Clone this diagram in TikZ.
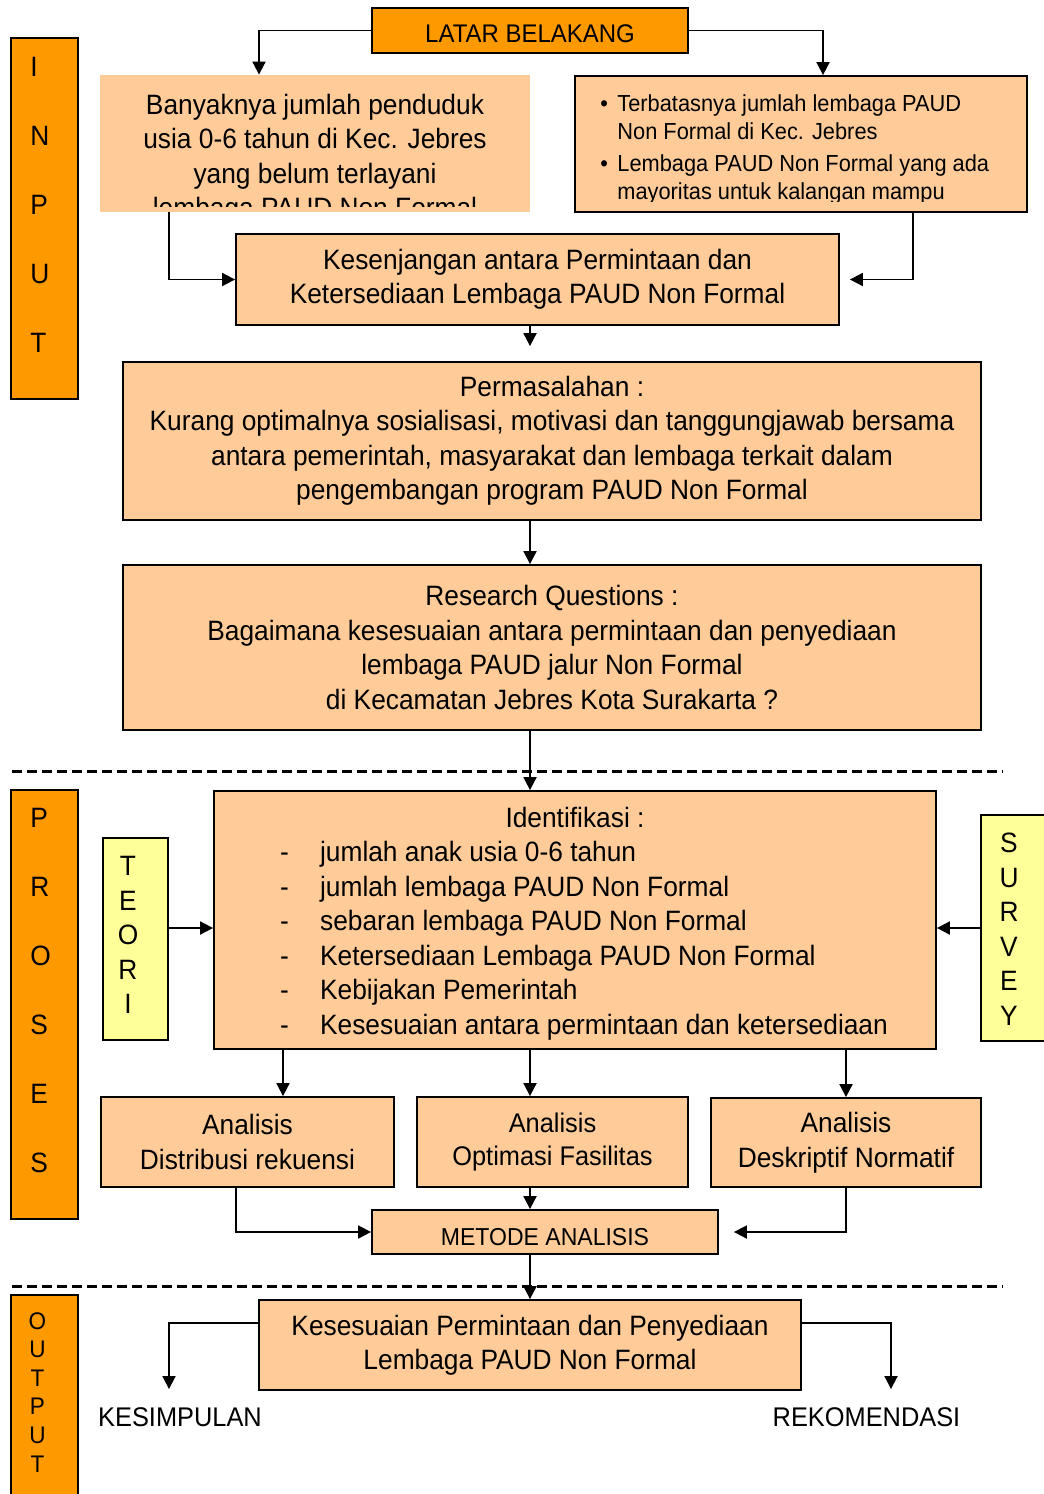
\documentclass[tikz,border=0pt]{standalone}
\usepackage{fontspec}
\setmainfont{Liberation Sans}[FakeStretch=0.94]
\usetikzlibrary{arrows.meta,positioning,calc}
\definecolor{paudOrange}{RGB}{255,153,0}
\definecolor{paudPeach}{RGB}{255,204,153}
\definecolor{paudYellow}{RGB}{255,255,153}
\newcommand{\bigtxt}{\fontsize{14pt}{17.25pt}\selectfont}
\newcommand{\midtxt}{\fontsize{12.5pt}{15pt}\selectfont}
\newcommand{\smalltxt}{\fontsize{11.6pt}{14pt}\selectfont}
\tikzset{
  darkbox/.style={draw=black, line width=0.9pt, fill=paudOrange, inner sep=0pt, font=\midtxt},
  peachbox/.style={draw=black, line width=0.9pt, fill=paudPeach, inner sep=0pt, align=center, font=\bigtxt},
  yellowbox/.style={draw=black, line width=0.9pt, fill=paudYellow, inner sep=0pt},
  barword/.style={inner sep=0pt, align=left, font=\fontsize{14pt}{34.5pt}\selectfont},
  sideword/.style={inner sep=0pt, align=center, font=\fontsize{14pt}{17.25pt}\selectfont},
  arr/.style={line width=0.9pt, -{Triangle[length=6.5pt,width=6.5pt]}},
  sepline/.style={line width=1.5pt, dash pattern=on 5pt off 2.5pt},
}

\begin{document}
\begin{tikzpicture}[x=0.5pt,y=-0.5pt]
\useasboundingbox (0,0) rectangle (1044,1494);

% side bars
\node[darkbox, minimum width=33.5pt, minimum height=180.5pt] (inbar) at (44.5,218.5) {};
\node[barword, anchor=north west] (inword) at (30,57) {I\\N\\P\\U\\T};
\node[darkbox, minimum width=33.5pt, minimum height=214.5pt] (prbar) at (44.5,1004.5) {};
\node[barword, anchor=north west] (prword) at (30,808) {P\\R\\O\\S\\E\\S};
\node[darkbox, minimum width=33.5pt, minimum height=107.5pt] (outbar) at (44.5,1402.5) {};
\node[inner sep=0pt, align=center, font=\fontsize{12pt}{14.3pt}\selectfont, anchor=north] (outword) at (37.5,1312) {O\\U\\T\\P\\U\\T};

\draw[sepline] (12,771) -- (1003,771);
\draw[sepline] (12,1286) -- (1003,1286);

% input
\node[darkbox, minimum width=158pt, minimum height=22.5pt, text height=12.5pt, font=\fontsize{12.75pt}{15pt}\selectfont] (latar) at (530,30.5) {LATAR BELAKANG};
\node[fill=paudPeach, inner sep=0pt, minimum width=215pt, minimum height=68.5pt] (banyak) at (315,143.5) {};
\begin{scope}
  \clip (banyak.north west) rectangle (530,206);
  \node[inner sep=0pt, align=center, font=\bigtxt] (banyaktxt) at (315,159) {Banyaknya jumlah penduduk\\usia 0-6 tahun di Kec. Jebres\\yang belum terlayani\\lembaga PAUD Non Formal};
\end{scope}
\node[peachbox, minimum width=226pt, minimum height=68pt] (lack) at (801,144) {};
\begin{scope}
  \clip (lack.north west) rectangle (1027,201);
  \node[inner sep=0pt, align=left, font=\smalltxt, anchor=north west] (lacktxt) at (600,94) {\makebox[8.5pt][l]{\textbullet}Terbatasnya jumlah lembaga PAUD\\\hspace*{8.5pt}Non Formal di Kec. Jebres\\[2pt]\makebox[8.5pt][l]{\textbullet}Lembaga PAUD Non Formal yang ada\\\hspace*{8.5pt}mayoritas untuk kalangan mampu};
\end{scope}
\node[peachbox, minimum width=301.5pt, minimum height=45.5pt] (kesen) at (537.5,279.5) {Kesenjangan antara Permintaan dan\\Ketersediaan Lembaga PAUD Non Formal};
\node[peachbox, minimum width=429pt, minimum height=79pt] (perma) at (552,441) {Permasalahan :\\Kurang optimalnya sosialisasi, motivasi dan tanggungjawab bersama\\antara pemerintah, masyarakat dan lembaga terkait dalam\\pengembangan program PAUD Non Formal};
\node[peachbox, minimum width=429pt, minimum height=82.5pt] (rq) at (552,647.5) {Research Questions :\\Bagaimana kesesuaian antara permintaan dan penyediaan\\lembaga PAUD jalur Non Formal\\di Kecamatan Jebres Kota Surakarta ?};

% proses
\node[yellowbox, minimum width=32.5pt, minimum height=101pt] (teori) at (135.5,939) {};
\node[sideword, anchor=north] (teoriword) at (128,856) {T\\E\\O\\R\\I};
\node[yellowbox, minimum width=35pt, minimum height=113pt] (survey) at (1016,928) {};
\node[sideword, anchor=north] (surveyword) at (1009,833) {S\\U\\R\\V\\E\\Y};
\node[peachbox, minimum width=361pt, minimum height=129pt] (ident) at (575,920) {};
\node[inner sep=0pt, font=\bigtxt] (identtxt) at ([yshift=-2pt]ident.center) {\begin{tabular}{@{\hspace{9pt}}p{20pt}@{}l@{}}
\multicolumn{2}{@{}c@{}}{Identifikasi :}\\
- & jumlah anak usia 0-6 tahun\\
- & jumlah lembaga PAUD Non Formal\\
- & sebaran lembaga PAUD Non Formal\\
- & Ketersediaan Lembaga PAUD Non Formal\\
- & Kebijakan Pemerintah\\
- & Kesesuaian antara permintaan dan ketersediaan
\end{tabular}};
\node[peachbox, minimum width=146.5pt, minimum height=45pt] (anl1) at (247.5,1142) {Analisis\\Distribusi rekuensi};
\node[peachbox, minimum width=135.5pt, minimum height=45pt, font=\fontsize{13.5pt}{16.5pt}\selectfont] (anl2) at (552.5,1142) {Analisis\\Optimasi Fasilitas};
\node[peachbox, minimum width=135pt, minimum height=44.5pt] (anl3) at (846,1142.5) {Analisis\\Deskriptif Normatif};
\node[peachbox, minimum width=173pt, minimum height=22pt, text height=14pt, font=\fontsize{12.25pt}{15pt}\selectfont] (metode) at (545,1232) {METODE ANALISIS};

% output
\node[peachbox, minimum width=271pt, minimum height=45pt] (kes) at (530,1345) {Kesesuaian Permintaan dan Penyediaan\\Lembaga PAUD Non Formal};
\node[inner sep=0pt, font=\fontsize{13.5pt}{16pt}\selectfont] (kesimp) at (180,1417) {KESIMPULAN};
\node[inner sep=0pt, font=\fontsize{13.5pt}{16pt}\selectfont] (rekom) at (866.5,1417) {REKOMENDASI};

\coordinate (anl1in) at ([xshift=17.75pt]anl1.north);
\draw[arr] (latar.west) -| ([xshift=-28pt]banyak.north);
\draw[arr] (latar.east) -| ([xshift=11pt]lack.north);
\draw[arr] ([xshift=-73pt]banyak.south) |- (kesen.west);
\draw[arr, shorten >=5pt] ([xshift=56pt]lack.south) |- (kesen.east);
\draw[arr, shorten >=7.5pt] (kesen.south -| latar) -- (perma.north -| latar);
\draw[arr] (perma.south -| latar) -- (rq.north -| latar);
\draw[arr] (rq.south -| latar) -- (ident.north -| latar);
\draw[arr] (teori.east |- survey.west) -- (ident.west |- survey.west);
\draw[arr] (survey.west) -- (ident.east |- survey.west);
\draw[arr] (ident.south -| anl1in) -- (anl1in);
\draw[arr] (ident.south -| latar) -- (anl2.north -| latar);
\draw[arr] (ident.south -| anl3) -- (anl3.north);
\draw[arr] (anl2.south -| latar) -- (metode.north -| latar);
\draw[arr] ([xshift=-5.75pt]anl1.south) |- (metode.west);
\draw[arr, shorten >=7.5pt] (anl3.south) |- (metode.east);
\draw[arr] (metode.south -| latar) -- (kes.north -| latar);
\draw[arr, shorten >=9pt] ([yshift=11pt]kes.west) -| ([xshift=-5.5pt]kesimp.north);
\draw[arr, shorten >=9pt] ([yshift=11pt]kes.east) -| ([xshift=12.25pt]rekom.north);
\end{tikzpicture}
\end{document}
